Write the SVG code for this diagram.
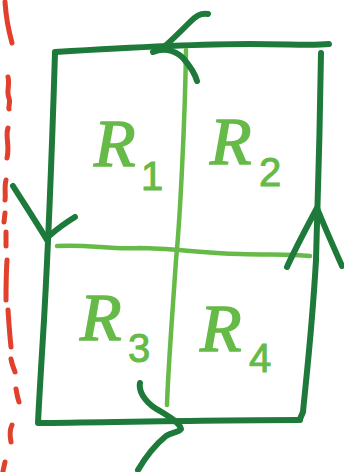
<svg xmlns="http://www.w3.org/2000/svg" width="344" height="472" viewBox="0 0 344 472">
<style>
.dk{fill:none;stroke:#1d7a3a;stroke-width:6;stroke-linecap:round;stroke-linejoin:round}
.lt{fill:none;stroke:#66ba48;stroke-width:4.5;stroke-linecap:round;stroke-linejoin:round}
.rd{fill:none;stroke:#e0402c;stroke-width:5;stroke-linecap:round;stroke-linejoin:round}
.lbl{fill:#66ba48;stroke:#66ba48;stroke-width:1.5;font-family:"Liberation Serif",serif;font-style:italic;font-size:68px}
.sub{fill:#66ba48;stroke:#66ba48;stroke-width:1;font-family:"Liberation Sans",sans-serif;font-size:40px}
</style>
<rect width="344" height="472" fill="#ffffff"/>
<g id="boundary-axis">
<path class="rd" d="M5,2 C6,18 9,32 12,43"/>
<path class="rd" d="M8,77 C10,85 6,92 9,98 C11,103 8,106 9,109"/>
<path class="rd" d="M8,128 C5,136 10,145 7,158"/>
<path class="rd" d="M6,180 C4,188 6,195 5,200"/>
<path class="rd" d="M5,213 L4,222"/>
<path class="rd" d="M6,232 L6,246"/>
<path class="rd" d="M7,260 C6,275 6,288 6,300"/>
<path class="rd" d="M8,310 C9,325 10,338 11,347"/>
<path class="rd" d="M11,359 C12,365 14,369 15,372"/>
<path class="rd" d="M16,389 C17,395 18,399 19,402"/>
<path class="rd" d="M12,425 C9,431 10,437 11,442"/>
<path class="rd" d="M5,462 L3,471"/>
</g>
<g id="region-outline">
<path class="dk" d="M55,52 C120,48 200,44 250,44 C290,44 312,46 329,44"/>
<path class="dk" d="M321,53 C320,120 318,200 316,260 C312,330 306,380 303,412 L300,419"/>
<path class="dk" d="M55,53 C52,150 48,250 44,320 C41,370 39,400 38,423 C120,422 220,420 300,420"/>
</g>
<g id="dividers">
<path class="lt" d="M186,50 C185,120 180,220 176,260 C172,320 168,370 167,405"/>
<path class="lt" d="M57,246 C90,244 110,250 140,248 C170,248 200,253 240,254 C270,255 290,254 310,256"/>
</g>
<g id="connectors">
<path class="dk" d="M208,14 C200,13 196,16 190,22 C182,30 172,40 165,46"/>
<path class="dk" d="M153,52 C162,48 174,49 183,58 C190,66 195,74 197,81"/>
<path class="dk" d="M13,186 C25,205 38,225 47,240"/>
<path class="dk" d="M75,217 C65,223 56,230 49,236"/>
<path class="dk" d="M287,267 C297,245 308,225 317,208 C325,228 334,248 342,266"/>
<path class="dk" d="M140,383 C138,393 148,405 160,411 C170,417 180,423 181,429 C178,433 172,432 166,436 C155,445 145,458 138,470"/>
</g>
<g id="R1"><text class="lbl" x="94" y="166">R</text><text class="sub" x="141" y="190">1</text></g>
<g id="R2"><text class="lbl" x="210" y="164">R</text><text class="sub" x="259" y="186">2</text></g>
<g id="R3"><text class="lbl" x="80" y="340">R</text><text class="sub" x="128" y="362">3</text></g>
<g id="R4"><text class="lbl" x="200" y="351">R</text><text class="sub" x="249" y="372">4</text></g>
</svg>
